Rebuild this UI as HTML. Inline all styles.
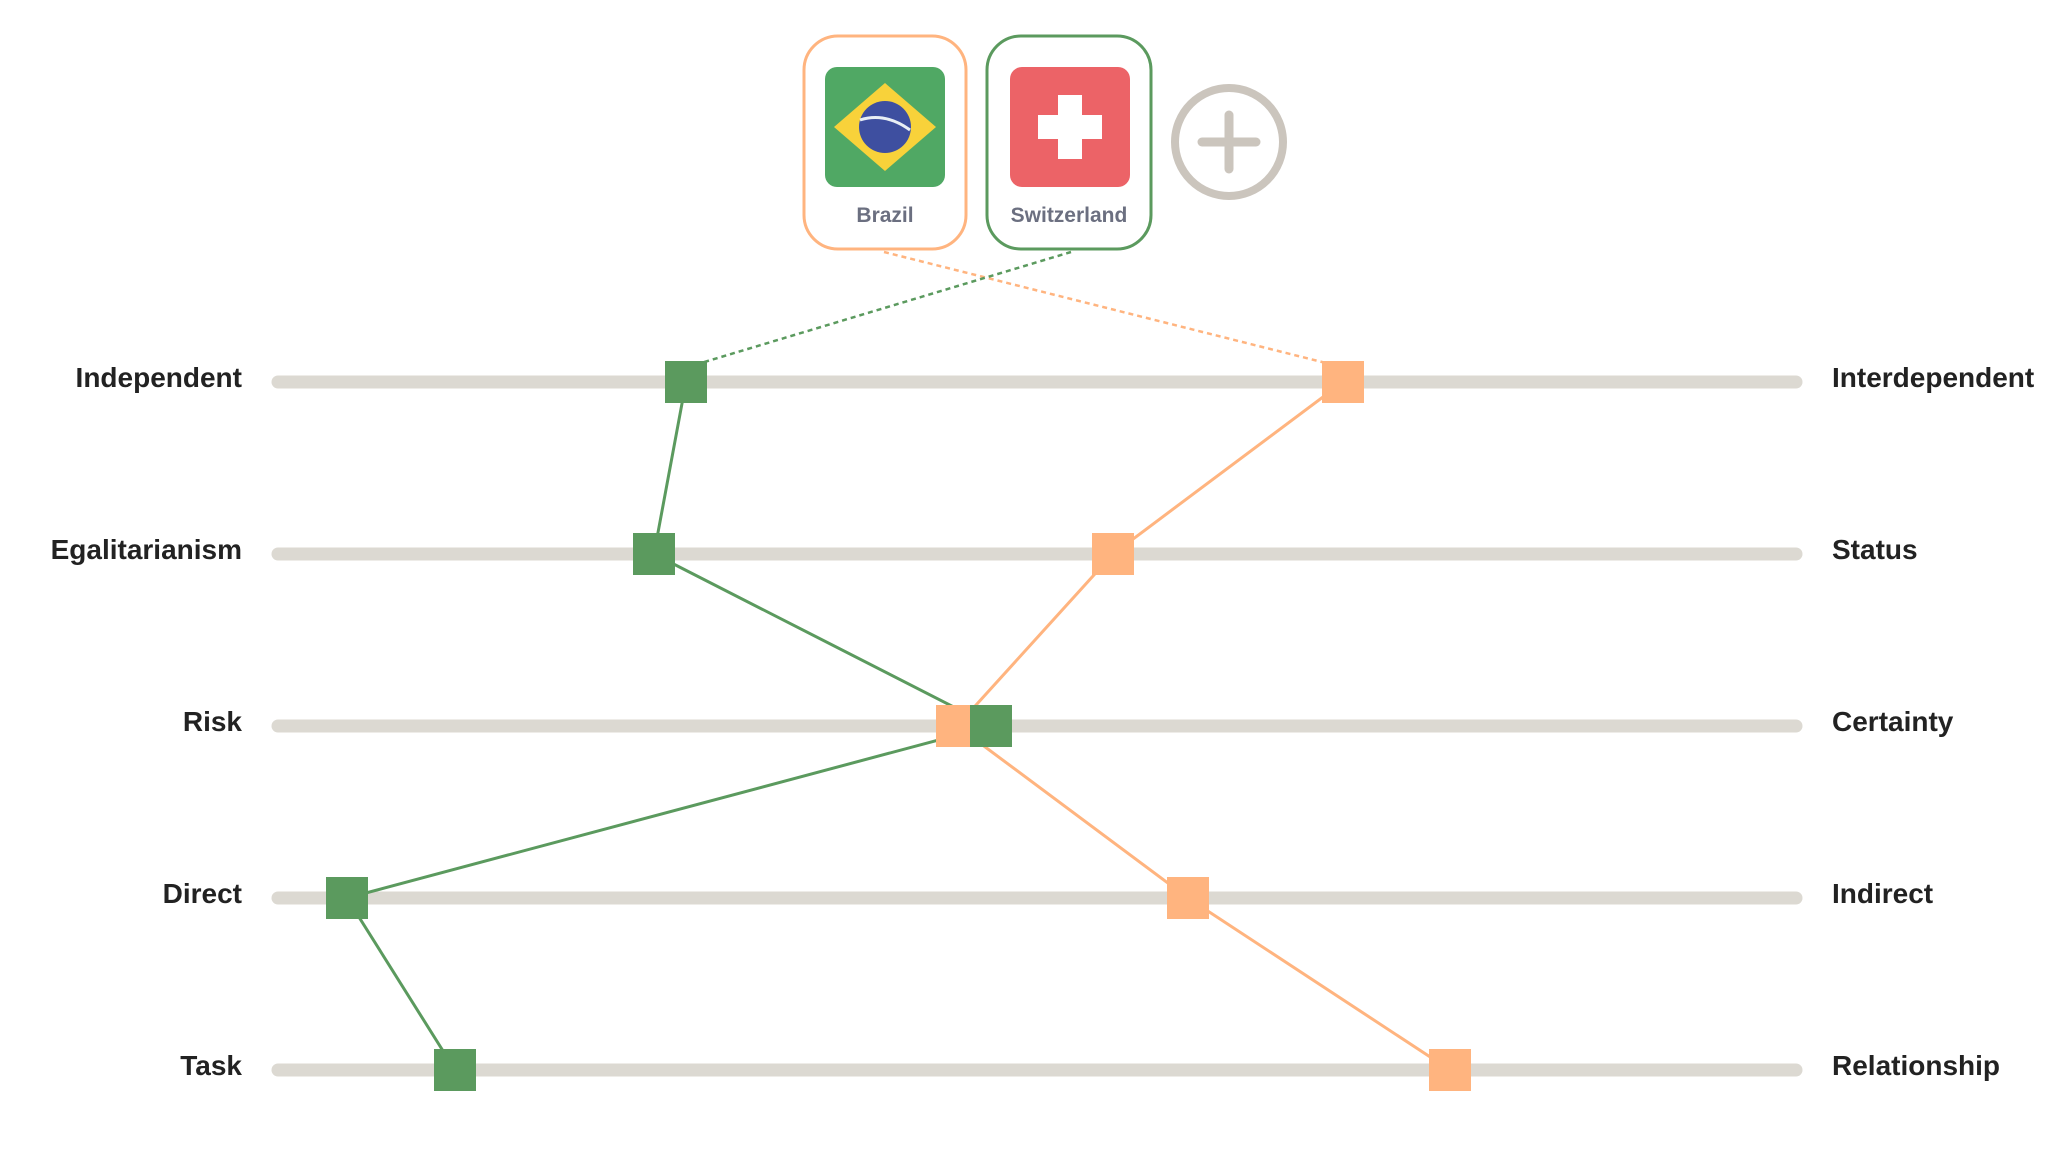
<!DOCTYPE html>
<html><head><meta charset="utf-8"><style>
html,body{margin:0;padding:0;background:#fff;}
svg{display:block;}
text{font-family:"Liberation Sans",sans-serif;}
</style></head><body>
<svg width="2048" height="1150" viewBox="0 0 2048 1150" xmlns="http://www.w3.org/2000/svg">
<rect x="804" y="36" width="162" height="213" rx="34" fill="#fff" stroke="#ffb47f" stroke-width="3"/>
<rect x="987" y="36" width="164" height="213" rx="34" fill="#fff" stroke="#5b9a5e" stroke-width="3"/>
<rect x="825" y="67" width="120" height="120" rx="12" fill="#50a864"/>
<polygon points="885,83 936,127 885,171 834,127" fill="#f8d23a"/>
<circle cx="885" cy="127" r="26" fill="#3e4fa0"/>
<path d="M860,120 Q885,112 910,130" stroke="#e8eef5" stroke-width="3" fill="none"/>
<rect x="1010" y="67" width="120" height="120" rx="12" fill="#ec6367"/>
<rect x="1058" y="95" width="24" height="64" fill="#fff"/>
<rect x="1038" y="115" width="64" height="24" fill="#fff"/>
<text x="885" y="222" font-size="21" font-weight="bold" fill="#6b6f80" text-anchor="middle">Brazil</text>
<text x="1069" y="222" font-size="21" font-weight="bold" fill="#6b6f80" text-anchor="middle">Switzerland</text>
<circle cx="1229" cy="142" r="54" fill="none" stroke="#cbc5bd" stroke-width="8"/>
<line x1="1229" y1="115" x2="1229" y2="169" stroke="#cbc5bd" stroke-width="9" stroke-linecap="round"/>
<line x1="1202" y1="142" x2="1256" y2="142" stroke="#cbc5bd" stroke-width="9" stroke-linecap="round"/>
<line x1="884" y1="252" x2="1326" y2="363" stroke="#ffb47f" stroke-width="2.5" stroke-dasharray="5,4"/>
<line x1="1071" y1="252" x2="701" y2="363" stroke="#5b9a5e" stroke-width="2.5" stroke-dasharray="5,4"/>
<g stroke="#dcd9d2" stroke-width="13" stroke-linecap="round">
<line x1="278" y1="382" x2="1796" y2="382"/>
<line x1="278" y1="554" x2="1796" y2="554"/>
<line x1="278" y1="726" x2="1796" y2="726"/>
<line x1="278" y1="898" x2="1796" y2="898"/>
<line x1="278" y1="1070" x2="1796" y2="1070"/>
</g>
<g font-size="28" font-weight="bold" fill="#222">
<text x="242" y="387" text-anchor="end">Independent</text>
<text x="242" y="559" text-anchor="end">Egalitarianism</text>
<text x="242" y="731" text-anchor="end">Risk</text>
<text x="242" y="903" text-anchor="end">Direct</text>
<text x="242" y="1075" text-anchor="end">Task</text>
<text x="1832" y="387">Interdependent</text>
<text x="1832" y="559">Status</text>
<text x="1832" y="731">Certainty</text>
<text x="1832" y="903">Indirect</text>
<text x="1832" y="1075">Relationship</text>
</g>
<polyline points="1343,382 1113,554 957,726 1188,898 1450,1070" fill="none" stroke="#ffb47f" stroke-width="3"/>
<polyline points="686,382 654,554 991,726 347,898 455,1070" fill="none" stroke="#5b9a5e" stroke-width="3"/>
<g fill="#ffb47f">
<rect x="1322" y="361" width="42" height="42"/>
<rect x="1092" y="533" width="42" height="42"/>
<rect x="936" y="705" width="42" height="42"/>
<rect x="1167" y="877" width="42" height="42"/>
<rect x="1429" y="1049" width="42" height="42"/>
</g>
<g fill="#5b9a5e">
<rect x="665" y="361" width="42" height="42"/>
<rect x="633" y="533" width="42" height="42"/>
<rect x="970" y="705" width="42" height="42"/>
<rect x="326" y="877" width="42" height="42"/>
<rect x="434" y="1049" width="42" height="42"/>
</g>
</svg>
</body></html>
